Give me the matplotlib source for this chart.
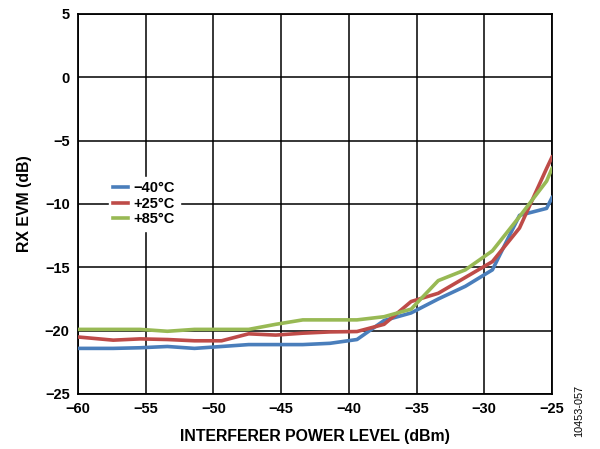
import matplotlib
matplotlib.use("Agg")
import matplotlib.pyplot as plt

plt.rcParams['font.family'] = ['Liberation Sans', 'DejaVu Sans']

power = [-60, -57.4, -55.4, -53.4, -51.4, -49.4, -47.4, -45.4, -43.4, -41.4,
         -39.4, -37.4, -35.4, -33.4, -31.4, -29.4, -27.4, -25.4, -25.0]
evm_m40 = [-21.4, -21.4, -21.35, -21.25, -21.4, -21.25, -21.1, -21.1, -21.1, -21.0,
           -20.7, -19.2, -18.6, -17.5, -16.5, -15.2, -10.9, -10.35, -9.5]
evm_p25 = [-20.5, -20.75, -20.65, -20.7, -20.8, -20.8, -20.25, -20.35, -20.2, -20.1,
           -20.07, -19.5, -17.7, -17.05, -15.8, -14.55, -11.9, -7.2, -6.3]
evm_p85 = [-19.9, -19.9, -19.9, -20.05, -19.9, -19.9, -19.9, -19.5, -19.15, -19.15,
           -19.15, -18.9, -18.3, -16.05, -15.2, -13.7, -11.0, -8.2, -7.2]
labels = ['\u221240\u00b0C', '+25\u00b0C', '+85\u00b0C']
colors = ['#4a7ebb', '#be4b48', '#98b954']

xticks = [-60, -55, -50, -45, -40, -35, -30, -25]
yticks = [-25, -20, -15, -10, -5, 0, 5]

fig = plt.figure(figsize=(6.0, 4.49), dpi=100)
ax = fig.add_axes([0.13, 0.1225, 0.79, 0.8465])

for ys, lab, c in zip([evm_m40, evm_p25, evm_p85], labels, colors):
    ax.plot(power, ys, color=c, lw=2.6, label=lab, solid_joinstyle='round', zorder=3)

ax.set_xlim(-60, -25)
ax.set_ylim(-25, 5)
ax.set_xticks(xticks)
ax.set_yticks(yticks)
ax.set_xticklabels([str(t).replace('-', '\u2212') for t in xticks], fontsize=10.5, fontweight='bold')
ax.set_yticklabels([str(t).replace('-', '\u2212') for t in yticks], fontsize=10.5, fontweight='bold')
ax.tick_params(length=0, pad=6)
ax.grid(True, color='black', lw=1.1)
for s in ax.spines.values():
    s.set_color('black')
    s.set_linewidth(1.3)

ax.set_xlabel('INTERFERER POWER LEVEL (dBm)', fontsize=11.4, fontweight='bold', labelpad=9)
ax.set_ylabel('RX EVM (dB)', fontsize=11.4, fontweight='bold', labelpad=9)

leg = ax.legend(loc='upper left', bbox_to_anchor=(0.05, 0.59), frameon=True,
                handlelength=1.0, handletextpad=0.4, labelspacing=0.1,
                borderpad=0.3, fancybox=False,
                prop={'weight': 'bold', 'size': 10.5})
leg.get_frame().set_edgecolor('white')
leg.get_frame().set_facecolor('white')
leg.get_frame().set_alpha(1)
leg.set_zorder(5)

fig.text(0.966, 0.085, '10453-057', rotation=90, fontsize=7.8, ha='center', va='center')

fig.savefig('out.png', dpi=100)
